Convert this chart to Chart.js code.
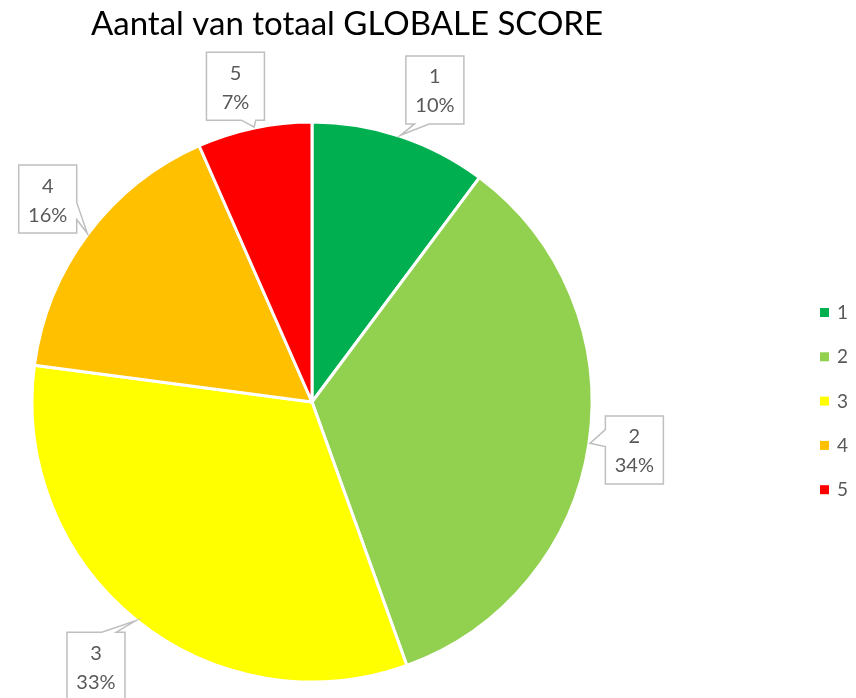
<!DOCTYPE html>
<html>
<head>
<meta charset="utf-8">
<script src="https://cdn.jsdelivr.net/npm/chart.js@4/dist/chart.umd.min.js"></script>
<style>
  html, body { margin: 0; padding: 0; background: #fff; }
  #scoreCanvas { display: block; }
</style>
</head>
<body>
<canvas id="scoreCanvas" width="856" height="698"></canvas>
<script>
const TITLE = 'Aantal van totaal GLOBALE SCORE';
const categories = ['1', '2', '3', '4', '5'];
const shares = [10.2, 34.3, 32.6, 16.3, 6.6];
const colors = ['#00B050', '#92D050', '#FFFF00', '#FFC000', '#FF0000'];

const FONT = 'Lato, "Noto Sans", sans-serif';
const TEXT_GREY = '#595959';
// small hand nudges so the callouts land where Excel put them
const LABEL_NUDGE = [[18, 4], [-7, -1], [-7, 5], [2, -3], [-8, 10]];

// title + legend drawn by hand so they sit where the reference puts them
const extrasPlugin = {
  id: 'extras',
  afterDraw(chart) {
    const ctx = chart.ctx;
    ctx.save();
    ctx.fillStyle = '#000';
    ctx.font = '33px ' + FONT;
    ctx.textAlign = 'center';
    ctx.textBaseline = 'middle';
    ctx.fillText(TITLE, 347, 24);

    ctx.font = '19px ' + FONT;
    ctx.textAlign = 'left';
    categories.forEach((c, i) => {
      const y = 313 + i * 44.3;
      ctx.fillStyle = colors[i];
      ctx.fillRect(820, y - 5, 9, 9);
      ctx.fillStyle = TEXT_GREY;
      ctx.fillText(c, 837, y);
    });
    ctx.restore();
  }
};

// callout boxes with a pointer wedge, anchored on each slice's mid angle
const calloutPlugin = {
  id: 'callouts',
  afterDatasetsDraw(chart) {
    const ctx = chart.ctx;
    const meta = chart.getDatasetMeta(0);
    const total = shares.reduce((a, b) => a + b, 0);
    const bw = 58, bh = 68;
    meta.data.forEach((arc, i) => {
      const p = arc.getProps(['x', 'y', 'startAngle', 'endAngle', 'outerRadius'], true);
      const mid = (p.startAngle + p.endAngle) / 2;
      const cx = p.x + Math.cos(mid) * (p.outerRadius + 53) + LABEL_NUDGE[i][0];
      const cy = p.y + Math.sin(mid) * (p.outerRadius + 53) + LABEL_NUDGE[i][1];
      const tx = p.x + Math.cos(mid) * (p.outerRadius + 1);
      const ty = p.y + Math.sin(mid) * (p.outerRadius + 1);
      const x0 = cx - bw / 2, x1 = cx + bw / 2, y0 = cy - bh / 2, y1 = cy + bh / 2;

      const dxOut = Math.max(x0 - tx, tx - x1, 0);
      const dyOut = Math.max(y0 - ty, ty - y1, 0);
      const pts = [];
      if (dyOut >= dxOut) {
        const a = tx < cx ? x0 + 0.15 * bw : x1 - 0.4 * bw;
        const b = tx < cx ? x0 + 0.4 * bw : x1 - 0.15 * bw;
        if (ty > cy) {
          pts.push([x0, y0], [x1, y0], [x1, y1], [b, y1], [tx, ty], [a, y1], [x0, y1]);
        } else {
          pts.push([x0, y0], [a, y0], [tx, ty], [b, y0], [x1, y0], [x1, y1], [x0, y1]);
        }
      } else {
        const a = ty < cy ? y0 + 0.2 * bh : y1 - 0.45 * bh;
        const b = ty < cy ? y0 + 0.45 * bh : y1 - 0.2 * bh;
        if (tx > cx) {
          pts.push([x0, y0], [x1, y0], [x1, a], [tx, ty], [x1, b], [x1, y1], [x0, y1]);
        } else {
          pts.push([x0, y0], [x1, y0], [x1, y1], [x0, y1], [x0, b], [tx, ty], [x0, a]);
        }
      }
      ctx.save();
      ctx.beginPath();
      pts.forEach((pt, k) => k ? ctx.lineTo(pt[0], pt[1]) : ctx.moveTo(pt[0], pt[1]));
      ctx.closePath();
      ctx.fillStyle = '#fff';
      ctx.fill();
      ctx.strokeStyle = '#BFBFBF';
      ctx.lineWidth = 1.5;
      ctx.stroke();

      ctx.fillStyle = TEXT_GREY;
      ctx.font = '20px ' + FONT;
      ctx.textAlign = 'center';
      ctx.textBaseline = 'middle';
      ctx.fillText(categories[i], cx, cy - 13);
      ctx.fillText(Math.round(shares[i] / total * 100) + '%', cx, cy + 16);
      ctx.restore();
    });
  }
};

new Chart(document.getElementById('scoreCanvas'), {
  type: 'pie',
  data: {
    labels: categories,
    datasets: [{
      data: shares,
      backgroundColor: colors,
      borderColor: '#fff',
      borderWidth: 3
    }]
  },
  options: {
    responsive: false,
    animation: false,
    devicePixelRatio: 1,
    layout: { padding: { left: 30.5, top: 120.5, right: 262.5, bottom: 14.5 } },
    plugins: {
      legend: { display: false },
      title: { display: false },
      tooltip: { enabled: false }
    }
  },
  plugins: [calloutPlugin, extrasPlugin]
});
</script>
</body>
</html>
